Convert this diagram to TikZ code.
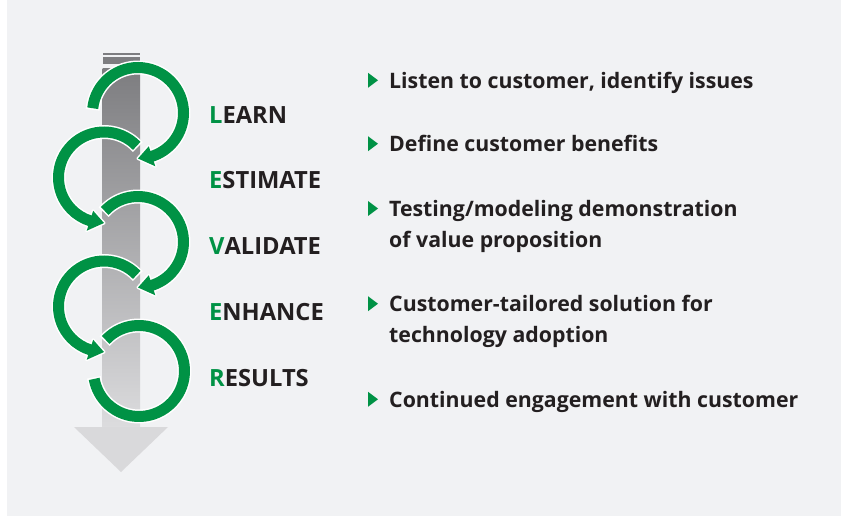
\documentclass[tikz,border=0pt]{standalone}
\usepackage{fontspec}
\setmainfont{Open Sans}
\usetikzlibrary{calc}
\definecolor{bgc}{RGB}{241,242,244}
\definecolor{gr}{RGB}{0,146,69}
\definecolor{txt}{RGB}{35,31,32}
\definecolor{shafttop}{RGB}{125,125,128}
\definecolor{shaftbot}{RGB}{220,220,222}
\definecolor{headc}{RGB}{217,217,219}
\tikzset{
  outl/.style={white, line width=14pt},
  gline/.style={gr, line width=11pt},
  headoutl/.style={draw=white, fill=white, line width=3pt, line join=round},
  lbl/.style={anchor=base west, inner sep=0pt, text=txt, font=\fontsize{23.7}{28}\selectfont\bfseries},
  desc/.style={anchor=base west, inner sep=0pt, align=left, text=txt, font=\fontsize{21.3}{31}\selectfont\bfseries},
}
% bullet before the first line of a description node; #2 = number of extra lines below it
\newcommand\bulmark[2]{\fill[gr] ($(#1.base west)+(-21,0.5+31*#2)$) -- ++(10,7.5) -- ++(-10,7.5) -- cycle;}
\begin{document}
\begin{tikzpicture}[x=1pt,y=1pt]
\useasboundingbox (0,0) rectangle (843,-518);
\fill[white] (0,0) rectangle (843,-518);
\fill[bgc] (7,0) rectangle (841,-516);
% shaft and arrow head
\fill[shafttop] (102.7,-52.7) rectangle (140,-54.7);
\fill[shafttop] (102.7,-57.3) rectangle (140,-64);
\shade[top color=shafttop, bottom color=shaftbot] (102.7,-68.7) rectangle (140,-427.5);
\fill[headc] (74,-427) -- (168,-427) -- (121,-472) -- cycle;
% loop centres
\coordinate (c1) at (138,-113);
\coordinate (c2) at (104,-177.5);
\coordinate (c3) at (138,-242);
\coordinate (c4) at (104,-306.5);
\coordinate (c5) at (139,-371);
% loop 1 (clockwise)
\draw[outl] ($(c1)+(176:45.5)$) arc[start angle=176, end angle=-72, radius=45.5];
\filldraw[headoutl] ($(c1)+(-72:35)$) -- ($(c1)+(-72:56)$) -- ($(c1)+(-90:45.5)$) -- cycle;
\draw[gline] ($(c1)+(174:45.5)$) arc[start angle=174, end angle=-73, radius=45.5];
\fill[gr] ($(c1)+(-72:35)$) -- ($(c1)+(-72:56)$) -- ($(c1)+(-90:45.5)$) -- cycle;
% loop 2 (counter-clockwise)
\draw[outl] ($(c2)+(42:45.5)$) arc[start angle=42, end angle=252, radius=45.5];
\filldraw[headoutl] ($(c2)+(252:35)$) -- ($(c2)+(252:56)$) -- ($(c2)+(270:45.5)$) -- cycle;
\draw[gline] ($(c2)+(44:45.5)$) arc[start angle=44, end angle=253, radius=45.5];
\fill[gr] ($(c2)+(252:35)$) -- ($(c2)+(252:56)$) -- ($(c2)+(270:45.5)$) -- cycle;
% loop 3 (clockwise)
\draw[outl] ($(c3)+(139:45.5)$) arc[start angle=139, end angle=-72, radius=45.5];
\filldraw[headoutl] ($(c3)+(-72:35)$) -- ($(c3)+(-72:56)$) -- ($(c3)+(-90:45.5)$) -- cycle;
\draw[gline] ($(c3)+(137:45.5)$) arc[start angle=137, end angle=-73, radius=45.5];
\fill[gr] ($(c3)+(-72:35)$) -- ($(c3)+(-72:56)$) -- ($(c3)+(-90:45.5)$) -- cycle;
% loop 4 (counter-clockwise)
\draw[outl] ($(c4)+(42:45.5)$) arc[start angle=42, end angle=252, radius=45.5];
\filldraw[headoutl] ($(c4)+(252:35)$) -- ($(c4)+(252:56)$) -- ($(c4)+(270:45.5)$) -- cycle;
\draw[gline] ($(c4)+(44:45.5)$) arc[start angle=44, end angle=253, radius=45.5];
\fill[gr] ($(c4)+(252:35)$) -- ($(c4)+(252:56)$) -- ($(c4)+(270:45.5)$) -- cycle;
% loop 5 (clockwise, open)
\draw[outl] ($(c5)+(139:45.5)$) arc[start angle=139, end angle=-172, radius=45.5];
\draw[gline] ($(c5)+(137:45.5)$) arc[start angle=137, end angle=-170, radius=45.5];
% labels
\node[lbl] (learn) at (209,-123.3) {\textcolor{gr}{L}EARN};
\node[lbl] (estimate) at (209,-189) {\textcolor{gr}{E}STIMATE};
\node[lbl] (validate) at (209,-255) {\textcolor{gr}{V}ALIDATE};
\node[lbl] (enhance) at (209,-320.7) {\textcolor{gr}{E}NHANCE};
\node[lbl] (results) at (209,-386.7) {\textcolor{gr}{R}ESULTS};
% descriptions (base anchor = baseline of last line)
\node[desc] (d1) at (389,-88.3) {Listen to customer, identify issues};
\node[desc] (d2) at (389,-151.7) {Define customer benefits};
\node[desc] (d3) at (389,-247.5) {Testing/modeling demonstration\\of value proposition};
\node[desc] (d4) at (389,-342.7) {Customer-tailored solution for\\technology adoption};
\node[desc] (d5) at (389,-407.3) {Continued engagement with customer};
\bulmark{d1}{0}
\bulmark{d2}{0}
\bulmark{d3}{1}
\bulmark{d4}{1}
\bulmark{d5}{0}
\end{tikzpicture}
\end{document}
